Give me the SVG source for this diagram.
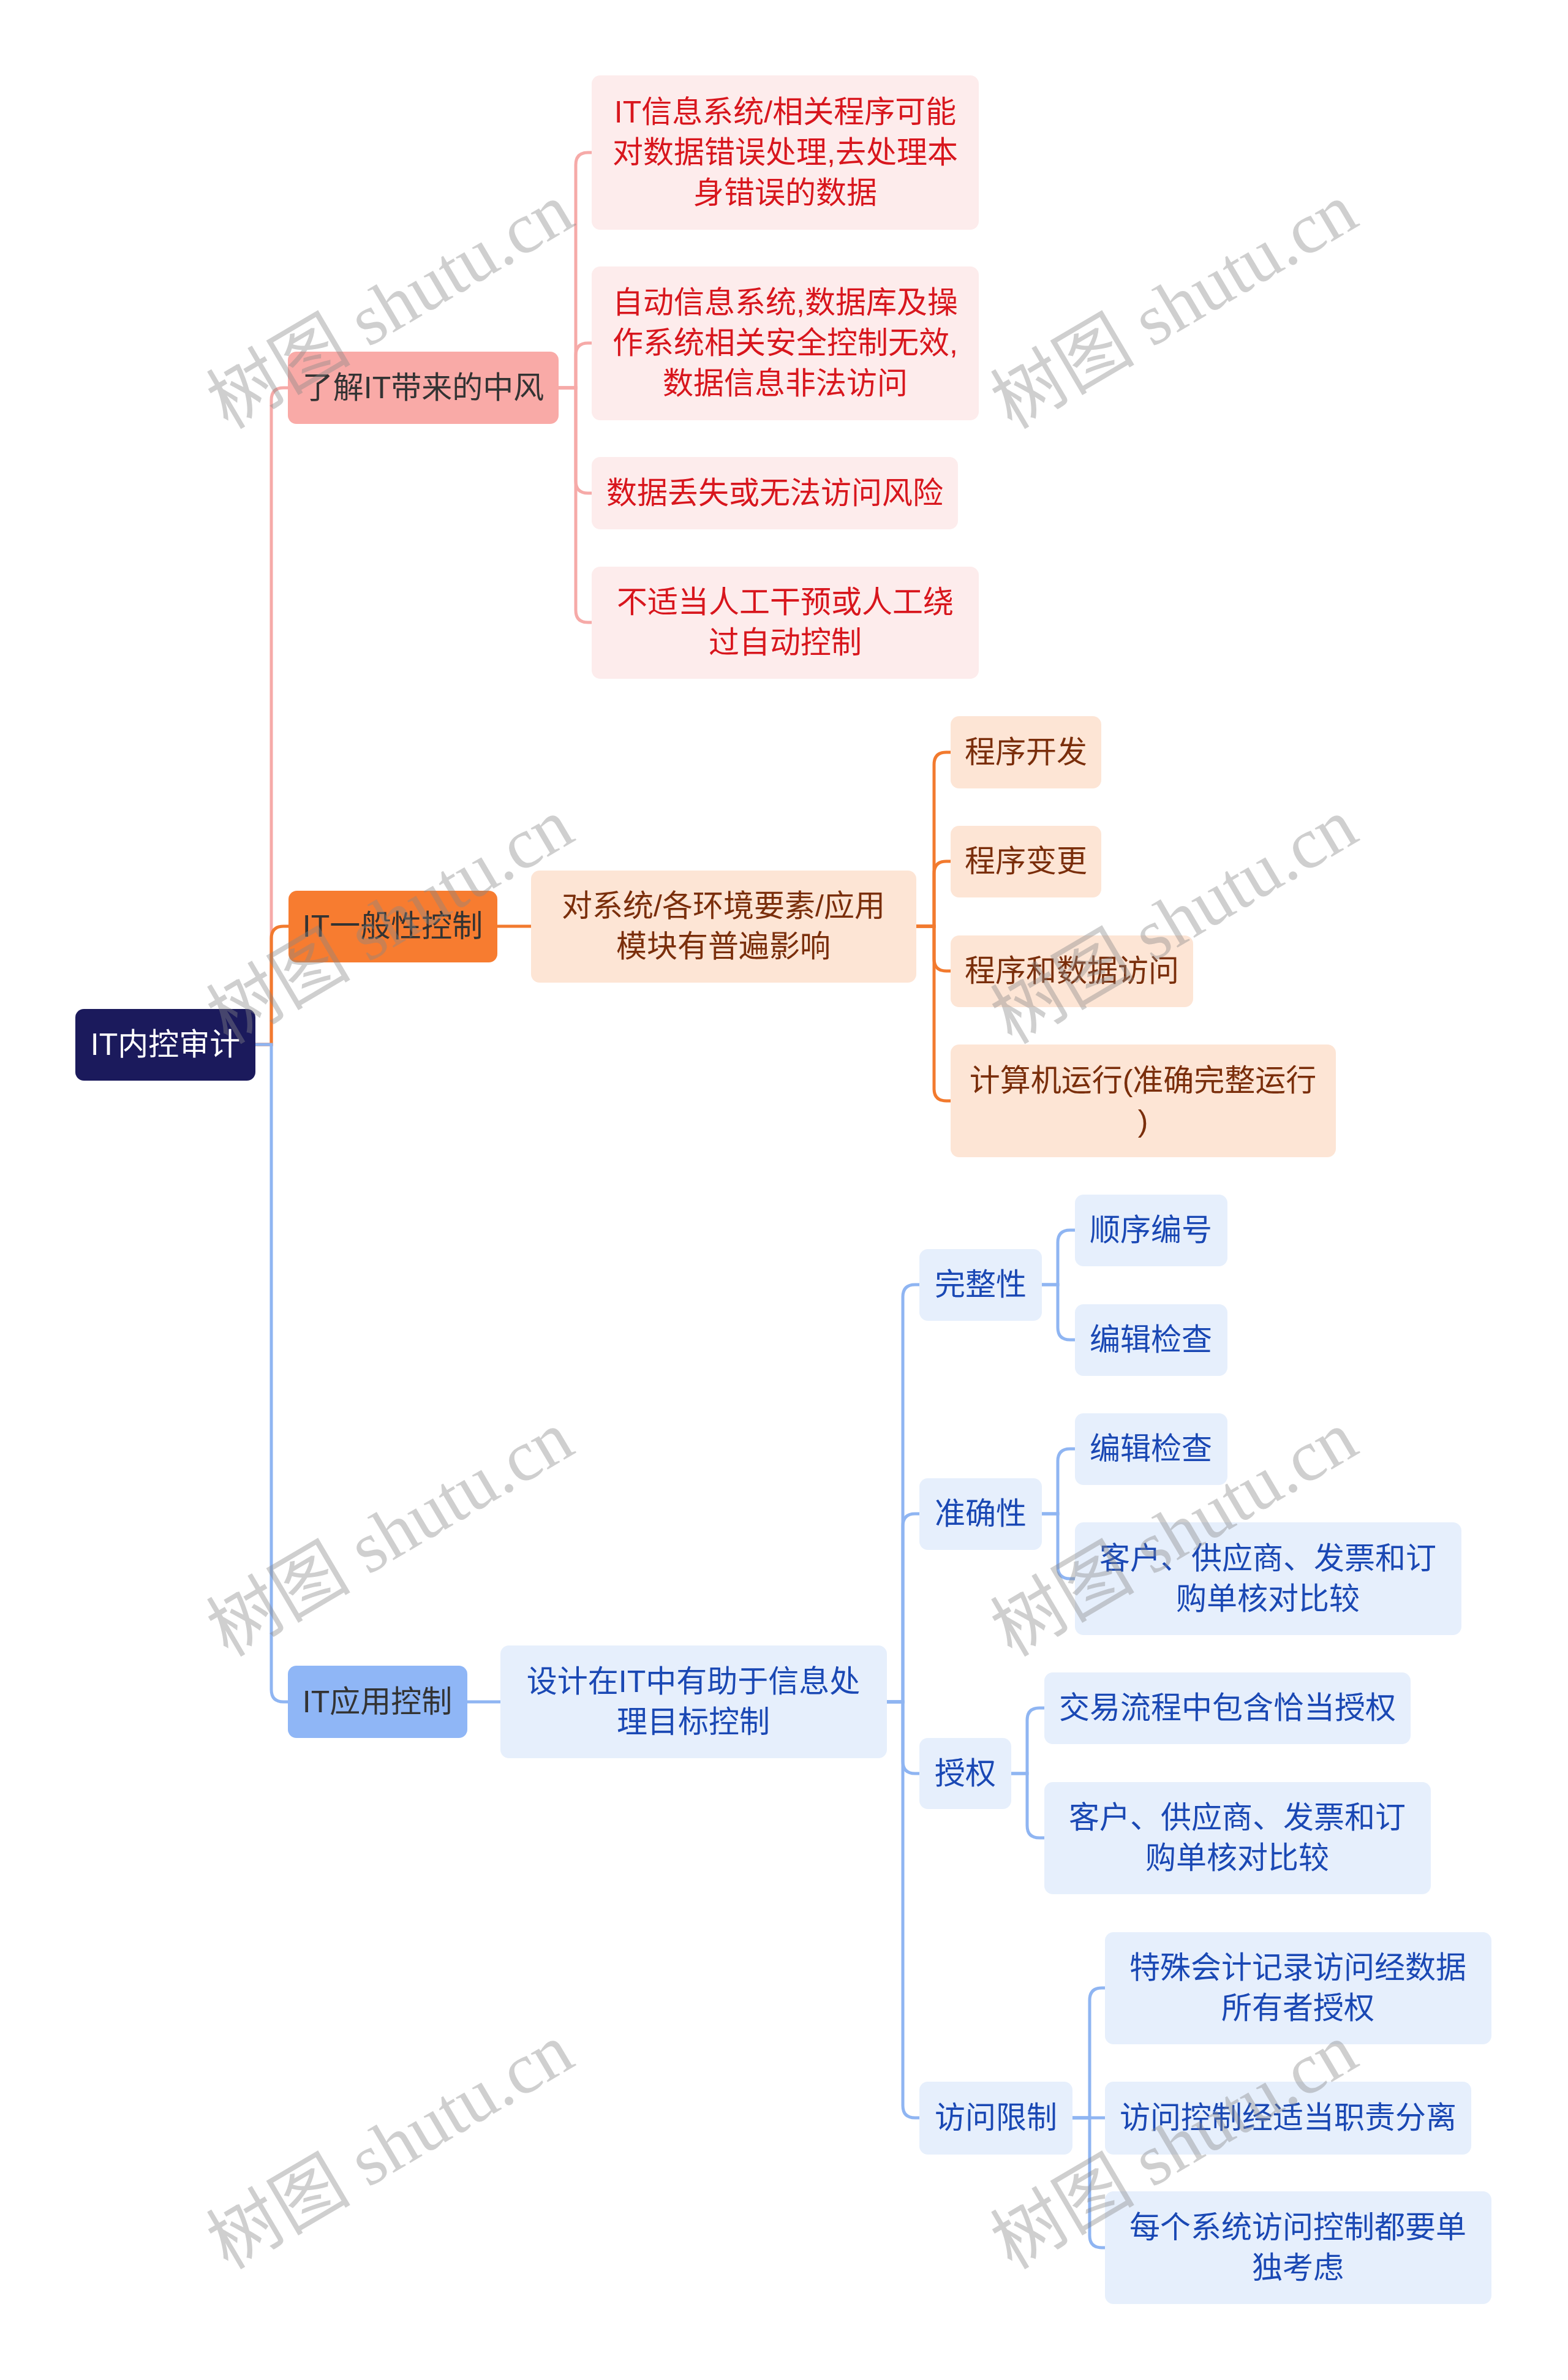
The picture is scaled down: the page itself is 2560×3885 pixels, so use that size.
<svg xmlns="http://www.w3.org/2000/svg" width="2560" height="3885" viewBox="0 0 2560 3885">
<defs>
<style>
text{font-family:"Liberation Sans","Noto Sans CJK SC",sans-serif;font-size:50px;text-anchor:middle;dominant-baseline:central}
.root rect{fill:#1b1a5c}.root text{fill:#ffffff}
.l1p rect{fill:#f9aaa7}.l1o rect{fill:#f77c30}.l1b rect{fill:#8fb6f6}
.l1p text,.l1o text,.l1b text{fill:#333333}
.rp rect{fill:#fdecec}.rp text{fill:#d8161d}
.ro rect{fill:#fde5d5}.ro text{fill:#7a2e0b}
.rb rect{fill:#e6effc}.rb text{fill:#1a48b4}
.c{fill:none;stroke-width:5;stroke-linecap:butt}
.cp{stroke:#f6aaa8}.co{stroke:#f27a2e}.cb{stroke:#8fb5f2}
.wm{font-family:"Liberation Serif","Noto Sans CJK SC",serif;font-size:118px;fill:#888888;fill-opacity:0.4;text-anchor:start;dominant-baseline:auto}
</style>
</defs>
<rect width="2560" height="3885" fill="#ffffff"/>

<g id="connectors">
<path class="c cp" d="M417,1705 H443 V653 Q443,633 463,633 H470"/>
<path class="c co" d="M417,1705 H443 V1532 Q443,1512 463,1512 H471"/>
<path class="c cb" d="M417,1705 H443 V2758 Q443,2778 463,2778 H470"/>

<path class="c cp" d="M912,633 H940 V269 Q940,249 960,249 H966"/>
<path class="c cp" d="M912,633 H940 V580 Q940,560 960,560 H966"/>
<path class="c cp" d="M912,633 H940 V785 Q940,805 960,805 H966"/>
<path class="c cp" d="M912,633 H940 V996 Q940,1016 960,1016 H966"/>

<path class="c co" d="M812,1512 H867"/>
<path class="c co" d="M1496,1512 H1525 V1248 Q1525,1228 1545,1228 H1552"/>
<path class="c co" d="M1496,1512 H1525 V1426 Q1525,1406 1545,1406 H1552"/>
<path class="c co" d="M1496,1512 H1525 V1565 Q1525,1585 1545,1585 H1552"/>
<path class="c co" d="M1496,1512 H1525 V1777 Q1525,1797 1545,1797 H1552"/>

<path class="c cb" d="M763,2778 H817"/>
<path class="c cb" d="M1448,2778 H1474 V2117 Q1474,2097 1494,2097 H1501"/>
<path class="c cb" d="M1448,2778 H1474 V2491 Q1474,2471 1494,2471 H1501"/>
<path class="c cb" d="M1448,2778 H1474 V2875 Q1474,2895 1494,2895 H1501"/>
<path class="c cb" d="M1448,2778 H1474 V3437 Q1474,3457 1494,3457 H1501"/>

<path class="c cb" d="M1701,2097 H1727 V2028 Q1727,2008 1747,2008 H1755"/>
<path class="c cb" d="M1701,2097 H1727 V2167 Q1727,2187 1747,2187 H1755"/>
<path class="c cb" d="M1701,2471 H1727 V2385 Q1727,2365 1747,2365 H1755"/>
<path class="c cb" d="M1701,2471 H1727 V2557 Q1727,2577 1747,2577 H1755"/>
<path class="c cb" d="M1651,2895 H1677 V2808 Q1677,2788 1697,2788 H1705"/>
<path class="c cb" d="M1651,2895 H1677 V2980 Q1677,3000 1697,3000 H1705"/>
<path class="c cb" d="M1751,3457 H1779 V3265 Q1779,3245 1799,3245 H1804"/>
<path class="c cb" d="M1751,3457 H1804"/>
<path class="c cb" d="M1751,3457 H1779 V3649 Q1779,3669 1799,3669 H1804"/>
</g>

<g id="n-root" class="root"><rect x="123" y="1647" width="294" height="117" rx="14"/><text x="270" y="1705">IT内控审计</text></g>

<g id="n-p" class="l1p"><rect x="470" y="574" width="442" height="118" rx="14"/><text x="691" y="633">了解IT带来的中风</text></g>
<g id="n-p1" class="rp"><rect x="966" y="123" width="632" height="252" rx="14"/><text x="1282" y="183">IT信息系统/相关程序可能</text><text x="1282" y="249">对数据错误处理,去处理本</text><text x="1282" y="315">身错误的数据</text></g>
<g id="n-p2" class="rp"><rect x="966" y="435" width="632" height="251" rx="14"/><text x="1282" y="494">自动信息系统,数据库及操</text><text x="1282" y="560">作系统相关安全控制无效,</text><text x="1282" y="626">数据信息非法访问</text></g>
<g id="n-p3" class="rp"><rect x="966" y="746" width="598" height="118" rx="14"/><text x="1265" y="805">数据丢失或无法访问风险</text></g>
<g id="n-p4" class="rp"><rect x="966" y="925" width="632" height="183" rx="14"/><text x="1282" y="983">不适当人工干预或人工绕</text><text x="1282" y="1049">过自动控制</text></g>

<g id="n-o" class="l1o"><rect x="471" y="1454" width="341" height="117" rx="14"/><text x="641" y="1512">IT一般性控制</text></g>
<g id="n-o0" class="ro"><rect x="867" y="1421" width="629" height="183" rx="14"/><text x="1181" y="1479">对系统/各环境要素/应用</text><text x="1181" y="1545">模块有普遍影响</text></g>
<g id="n-o1" class="ro"><rect x="1552" y="1169" width="246" height="118" rx="14"/><text x="1675" y="1228">程序开发</text></g>
<g id="n-o2" class="ro"><rect x="1552" y="1348" width="246" height="117" rx="14"/><text x="1675" y="1406">程序变更</text></g>
<g id="n-o3" class="ro"><rect x="1552" y="1527" width="396" height="117" rx="14"/><text x="1750" y="1585">程序和数据访问</text></g>
<g id="n-o4" class="ro"><rect x="1552" y="1705" width="629" height="184" rx="14"/><text x="1866" y="1764">计算机运行(准确完整运行</text><text x="1866" y="1830">)</text></g>

<g id="n-b" class="l1b"><rect x="470" y="2719" width="293" height="118" rx="14"/><text x="616" y="2778">IT应用控制</text></g>
<g id="n-b0" class="rb"><rect x="817" y="2686" width="631" height="184" rx="14"/><text x="1132" y="2745">设计在IT中有助于信息处</text><text x="1132" y="2811">理目标控制</text></g>
<g id="n-b1" class="rb"><rect x="1501" y="2039" width="200" height="117" rx="14"/><text x="1601" y="2097">完整性</text></g>
<g id="n-b11" class="rb"><rect x="1755" y="1950" width="249" height="117" rx="14"/><text x="1879" y="2008">顺序编号</text></g>
<g id="n-b12" class="rb"><rect x="1755" y="2129" width="249" height="117" rx="14"/><text x="1879" y="2187">编辑检查</text></g>
<g id="n-b2" class="rb"><rect x="1501" y="2413" width="200" height="117" rx="14"/><text x="1601" y="2471">准确性</text></g>
<g id="n-b21" class="rb"><rect x="1755" y="2307" width="249" height="117" rx="14"/><text x="1879" y="2365">编辑检查</text></g>
<g id="n-b22" class="rb"><rect x="1755" y="2485" width="631" height="184" rx="14"/><text x="2070" y="2544">客户、供应商、发票和订</text><text x="2070" y="2610">购单核对比较</text></g>
<g id="n-b3" class="rb"><rect x="1501" y="2837" width="150" height="116" rx="14"/><text x="1576" y="2895">授权</text></g>
<g id="n-b31" class="rb"><rect x="1705" y="2730" width="598" height="117" rx="14"/><text x="2004" y="2788">交易流程中包含恰当授权</text></g>
<g id="n-b32" class="rb"><rect x="1705" y="2909" width="631" height="183" rx="14"/><text x="2020" y="2967">客户、供应商、发票和订</text><text x="2020" y="3033">购单核对比较</text></g>
<g id="n-b4" class="rb"><rect x="1501" y="3398" width="250" height="119" rx="14"/><text x="1626" y="3457">访问限制</text></g>
<g id="n-b41" class="rb"><rect x="1804" y="3154" width="631" height="183" rx="14"/><text x="2119" y="3212">特殊会计记录访问经数据</text><text x="2119" y="3278">所有者授权</text></g>
<g id="n-b42" class="rb"><rect x="1804" y="3398" width="598" height="119" rx="14"/><text x="2103" y="3457">访问控制经适当职责分离</text></g>
<g id="n-b43" class="rb"><rect x="1804" y="3577" width="631" height="184" rx="14"/><text x="2119" y="3636">每个系统访问控制都要单</text><text x="2119" y="3702">独考虑</text></g>

<g id="watermarks">
<text class="wm" transform="translate(372,702) rotate(-30.5)">树图 shutu.cn</text>
<text class="wm" transform="translate(1652,702) rotate(-30.5)">树图 shutu.cn</text>
<text class="wm" transform="translate(372,1706) rotate(-30.5)">树图 shutu.cn</text>
<text class="wm" transform="translate(1652,1706) rotate(-30.5)">树图 shutu.cn</text>
<text class="wm" transform="translate(372,2706) rotate(-30.5)">树图 shutu.cn</text>
<text class="wm" transform="translate(1652,2706) rotate(-30.5)">树图 shutu.cn</text>
<text class="wm" transform="translate(372,3706) rotate(-30.5)">树图 shutu.cn</text>
<text class="wm" transform="translate(1652,3706) rotate(-30.5)">树图 shutu.cn</text>
</g>
</svg>
